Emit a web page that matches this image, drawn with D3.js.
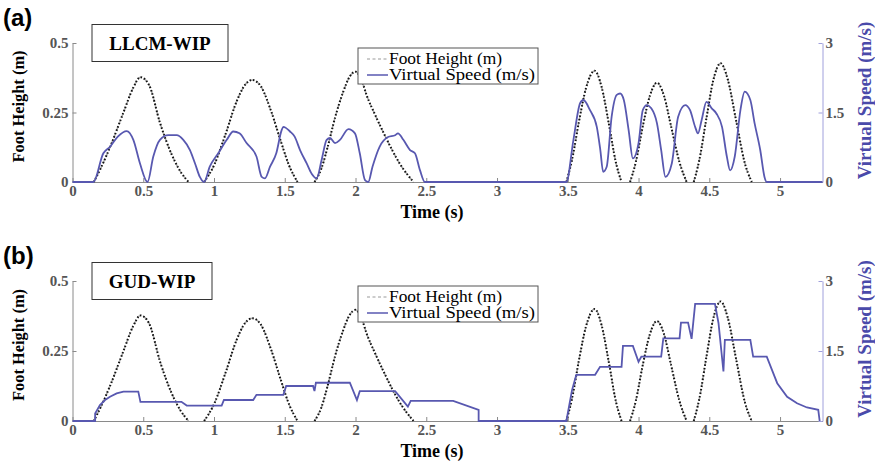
<!DOCTYPE html>
<html lang="en">
<head>
<meta charset="UTF-8">
<title>Foot height and virtual speed</title>
<script src="https://d3js.org/d3.v7.min.js"></script>
<style>
body { margin: 0; background: #fff; }
svg text { font-family: 'Liberation Serif', 'Times New Roman', serif; }
.tick text { font-size: 15px; font-weight: bold; fill: #555; }
</style>
</head>
<body>
<svg width="875" height="463"></svg>
<script>
// foot height (m), one array per swing phase (same in both panels)
const footSteps = [
  [[0.15,0],[0.2,0.05],[0.265,0.125],[0.36,0.25],[0.43,0.34],[0.48,0.377],[0.54,0.35],[0.62,0.21],[0.70,0.10],[0.76,0.04],[0.82,0]],
  [[0.93,0],[1.0,0.06],[1.08,0.17],[1.16,0.29],[1.22,0.35],[1.27,0.367],[1.33,0.345],[1.40,0.26],[1.47,0.15],[1.53,0.06],[1.59,0]],
  [[1.71,0],[1.76,0.05],[1.80,0.12],[1.86,0.24],[1.91,0.32],[1.96,0.38],[2.0,0.397],[2.04,0.37],[2.08,0.31],[2.14,0.24],[2.20,0.175],[2.32,0.06],[2.41,0]],
  [[3.49,0],[3.53,0.08],[3.58,0.22],[3.63,0.34],[3.69,0.40],[3.74,0.34],[3.79,0.21],[3.84,0.07],[3.88,0]],
  [[3.94,0],[3.98,0.07],[4.03,0.20],[4.08,0.31],[4.13,0.357],[4.18,0.31],[4.23,0.20],[4.29,0.07],[4.34,0]],
  [[4.39,0],[4.43,0.08],[4.48,0.23],[4.53,0.37],[4.58,0.427],[4.63,0.37],[4.69,0.22],[4.75,0.07],[4.80,0]]
];

// virtual speed (m/s), LLCM-WIP
const llcmSpeed = [[0,0],[0.147,0],[0.218,0.62],[0.265,0.76],[0.32,0.98],[0.383,1.10],[0.43,0.91],[0.477,0.40],[0.53,0],
  [0.571,0.55],[0.618,0.91],[0.677,1.01],[0.736,1.01],[0.783,0.91],[0.83,0.69],[0.866,0.40],[0.90,0.11],[0.93,0],
  [0.97,0.33],[1.03,0.62],[1.09,0.91],[1.136,1.09],[1.18,1.05],[1.23,0.84],[1.30,0.55],[1.337,0.11],[1.36,0.08],
  [1.396,0.33],[1.44,0.62],[1.478,1.12],[1.49,1.19],[1.537,1.09],[1.57,0.98],[1.608,0.69],[1.655,0.40],[1.69,0.18],[1.725,0.08],
  [1.76,0.47],[1.796,0.91],[1.82,0.95],[1.855,0.84],[1.89,0.91],[1.95,1.14],[1.996,1.05],[2.03,0.62],[2.067,0.04],[2.09,0],
  [2.12,0.33],[2.17,0.76],[2.23,0.97],[2.28,1.01],[2.30,1.05],[2.338,0.91],[2.385,0.69],[2.42,0.62],[2.456,0.25],[2.49,0],[3.49,0],
  [3.54,0.91],[3.587,1.70],[3.61,1.77],[3.657,1.55],[3.705,1.19],[3.73,0.69],[3.75,0.22],[3.775,0.33],[3.81,1.41],[3.846,1.88],
  [3.87,1.91],[3.896,1.77],[3.93,1.12],[3.96,0.51],[4.0,0.84],[4.03,1.55],[4.058,1.66],[4.09,1.59],[4.13,1.27],[4.16,0.69],
  [4.19,0.11],[4.235,0.40],[4.28,1.41],[4.33,1.66],[4.364,1.55],[4.40,1.19],[4.42,1.05],[4.446,1.34],[4.48,1.73],[4.517,1.59],
  [4.55,1.48],[4.59,1.19],[4.624,0.55],[4.647,0.25],[4.68,0.55],[4.72,1.55],[4.75,1.95],[4.79,1.77],[4.82,1.27],[4.86,0.69],
  [4.89,0.11],[4.906,0],[5.3,0]];

// virtual speed (m/s), GUD-WIP
const gudSpeed = [[0,0],[0.16,0],[0.16,0.16],[0.194,0.34],[0.23,0.45],[0.265,0.52],[0.312,0.59],[0.36,0.63],[0.465,0.63],[0.48,0.41],
  [0.77,0.41],[0.807,0.33],[1.054,0.33],[1.07,0.45],[1.277,0.45],[1.30,0.56],[1.49,0.56],[1.51,0.75],[1.70,0.75],[1.71,0.64],
  [1.72,0.82],[1.96,0.82],[2.01,0.45],[2.03,0.64],[2.28,0.64],[2.37,0.31],[2.39,0.43],[2.69,0.43],[2.87,0.24],[2.87,0],[3.49,0],
  [3.53,0.66],[3.56,0.99],[3.693,0.99],[3.728,1.16],[3.88,1.16],[3.89,1.61],[3.96,1.61],[4.0,1.27],[4.02,1.38],[4.16,1.38],
  [4.175,1.77],[4.29,1.77],[4.30,2.11],[4.35,2.11],[4.375,1.76],[4.40,2.51],[4.54,2.51],[4.565,2.1],[4.60,1.06],[4.61,1.74],
  [4.79,1.74],[4.81,1.38],[4.906,1.38],[4.98,0.81],[5.05,0.52],[5.12,0.38],[5.19,0.29],[5.27,0.24],[5.28,0]];

const timeTicks = [0, 0.5, 1, 1.5, 2, 2.5, 3, 3.5, 4, 4.5, 5];
const heightTicks = [0, 0.25, 0.5];
const speedTicks = [0, 1.5, 3];

const svg = d3.select('svg');
const blue = '#5858b0';

const x = d3.scaleLinear().domain([0, 5.3]).range([72.5, 822.5]);

function drawPanel(top, bottom, tag, title, titleW, speed, curve) {
  const yH = d3.scaleLinear().domain([0, 0.5]).range([bottom, top]);
  const yS = d3.scaleLinear().domain([0, 3]).range([bottom, top]);
  const g = svg.append('g');

  // axes
  const ax = g.append('g').attr('transform', `translate(0,${bottom})`)
    .call(d3.axisBottom(x).tickValues(timeTicks).tickSizeInner(-4).tickSizeOuter(0).tickPadding(5).tickFormat(d => d));
  const ay = g.append('g').attr('transform', `translate(${x(0)},0)`)
    .call(d3.axisLeft(yH).tickValues(heightTicks).tickSizeInner(-4).tickSizeOuter(0).tickPadding(4).tickFormat(d => d));
  const ar = g.append('g').attr('transform', `translate(${x(5.3)},0)`)
    .call(d3.axisRight(yS).tickValues(speedTicks).tickSizeInner(-4).tickSizeOuter(0).tickPadding(3).tickFormat(d => d));
  ax.selectAll('path, line').attr('stroke', '#8a8a8a');
  ay.selectAll('path, line').attr('stroke', '#8a8a8a');
  ar.selectAll('path, line').attr('stroke', '#a0a0dc');
  ax.selectAll('text').attr('dy', '0.6em');
  ar.selectAll('text').attr('fill', '#555');

  // foot height: gray dashed under black dotted
  const line = d3.line().x(d => x(d[0])).y(d => yH(d[1])).curve(d3.curveMonotoneX);
  footSteps.forEach(s => {
    g.append('path').attr('d', line(s)).attr('fill', 'none')
      .attr('stroke', '#aaa').attr('stroke-width', 1.5).attr('stroke-dasharray', '4,3');
    g.append('path').attr('d', line(s)).attr('fill', 'none')
      .attr('stroke', '#111').attr('stroke-width', 2).attr('stroke-dasharray', '1.5,2');
  });

  // virtual speed
  const sline = d3.line().x(d => x(d[0])).y(d => yS(d[1])).curve(curve);
  g.append('path').attr('d', sline(speed)).attr('fill', 'none')
    .attr('stroke', blue).attr('stroke-width', 1.8);

  // labels
  g.append('text').attr('x', 3).attr('y', top - 17).text(tag)
    .style('font-family', 'Liberation Sans, Arial, sans-serif').attr('font-weight', 'bold').attr('font-size', 24);
  g.append('rect').attr('x', 92).attr('y', top - 18.5).attr('width', titleW).attr('height', 37)
    .attr('fill', '#fff').attr('stroke', '#333').attr('stroke-width', 1);
  g.append('text').attr('x', 92 + titleW / 2).attr('y', top + 6.5).attr('text-anchor', 'middle')
    .attr('font-weight', 'bold').attr('font-size', 19).text(title);

  g.append('text').attr('transform', `translate(24,${(top + bottom) / 2 - 6}) rotate(-90)`)
    .attr('text-anchor', 'middle').attr('font-weight', 'bold').attr('font-size', 16)
    .attr('textLength', 112).attr('lengthAdjust', 'spacingAndGlyphs').text('Foot Height (m)');
  g.append('text').attr('transform', `translate(871,${(top + bottom) / 2 - 12}) rotate(-90)`)
    .attr('text-anchor', 'middle').attr('font-weight', 'bold').attr('font-size', 19)
    .attr('fill', '#4a4aaa').text('Virtual Speed (m/s)');
  g.append('text').attr('x', 432).attr('y', bottom + 36).attr('text-anchor', 'middle')
    .attr('font-weight', 'bold').attr('font-size', 18).text('Time (s)');

  // legend
  const lg = g.append('g').attr('transform', `translate(358,${top + 5})`);
  lg.append('rect').attr('width', 180).attr('height', 36).attr('fill', '#fff').attr('stroke', '#555');
  lg.append('line').attr('x1', 9).attr('x2', 30).attr('y1', 11).attr('y2', 11)
    .attr('stroke', '#999').attr('stroke-dasharray', '3,2.5');
  lg.append('line').attr('x1', 9).attr('x2', 30).attr('y1', 27).attr('y2', 27).attr('stroke', blue).attr('stroke-width', 1.5);
  lg.append('text').attr('x', 31).attr('y', 15.5).attr('font-size', 16)
    .attr('textLength', 113).attr('lengthAdjust', 'spacingAndGlyphs').text('Foot Height (m)');
  lg.append('text').attr('x', 31).attr('y', 31.5).attr('font-size', 16)
    .attr('textLength', 146).attr('lengthAdjust', 'spacingAndGlyphs').text('Virtual Speed (m/s)');
}

drawPanel(43, 182, '(a)', 'LLCM-WIP', 136, llcmSpeed, d3.curveMonotoneX);
drawPanel(281, 421, '(b)', 'GUD-WIP', 120, gudSpeed, d3.curveLinear);
</script>
</body>
</html>
